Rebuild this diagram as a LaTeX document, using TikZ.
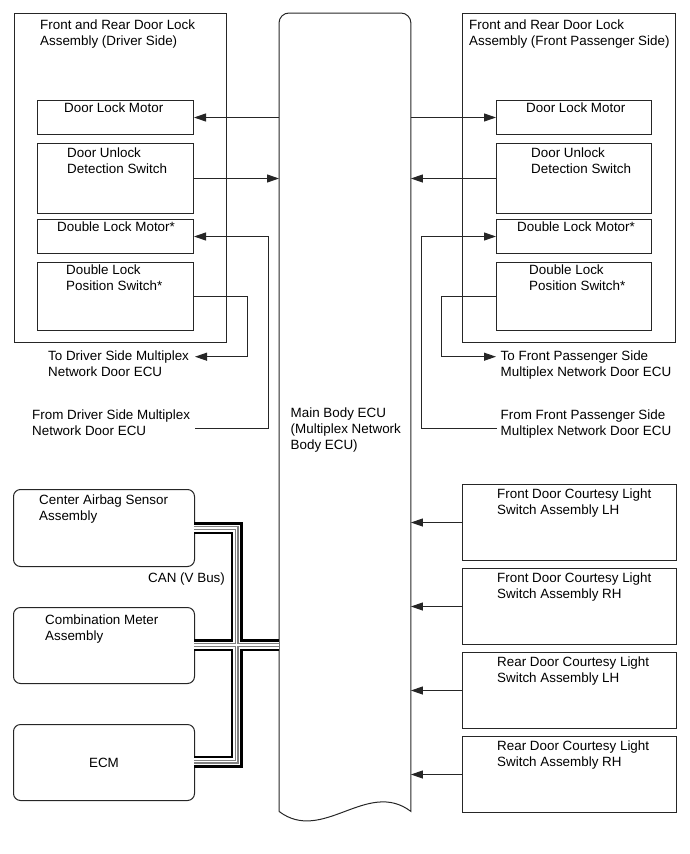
\documentclass[tikz,border=0pt]{standalone}
\usepackage{fontspec}
\setmainfont{Liberation Sans}
\usetikzlibrary{arrows.meta}
\begin{document}
\begin{tikzpicture}[x=1pt,y=-1pt,
  ln/.style={draw=black!85,line width=1pt},
  bx/.style={ln,rectangle,inner sep=0pt,anchor=north west},
  rbx/.style={bx,rounded corners=7pt},
  txt/.style={inner sep=0pt,anchor=north west,align=left,font=\fontsize{13.4}{16}\selectfont},
  arr/.style={ln,-{Triangle[length=12pt,width=8pt]}},
  wire/.style={ln,line join=miter}
]
\useasboundingbox (0,0) rectangle (689,854);

% main body ECU
\node[anchor=north west,minimum width=131.5pt,minimum height=798pt,inner sep=0pt] (ecu) at (279,13) {};
\draw[ln] (ecu.south west) [rounded corners=10pt] -- (ecu.north west) -- (ecu.north east) [sharp corners] -- (ecu.south east)
  .. controls ([xshift=-43.8pt,yshift=33pt]ecu.south east) and ([xshift=43.8pt,yshift=-33pt]ecu.south west) .. (ecu.south west);
\node[txt] (ecut) at (290.5,408) {Main Body ECU\\(Multiplex Network\\Body ECU)};

% left door lock assembly
\node[bx,minimum width=212pt,minimum height=329pt] (asmL) at (14,13) {};
\node[txt] (asmLt) at (40,20) {Front and Rear Door Lock\\Assembly (Driver Side)};
\node[bx,minimum width=156pt,minimum height=34pt] (dlmL) at (37,100) {};
\node[txt] (dlmLt) at (64,103) {Door Lock Motor};
\node[bx,minimum width=156pt,minimum height=70pt] (dusL) at (37,143) {};
\node[txt] (dusLt) at (67,148) {Door Unlock\\Detection Switch};
\node[bx,minimum width=156pt,minimum height=34pt] (dkmL) at (37,219) {};
\node[txt] (dkmLt) at (57,222) {Double Lock Motor*};
\node[bx,minimum width=156pt,minimum height=68pt] (dpsL) at (37,262) {};
\node[txt] (dpsLt) at (66,265) {Double Lock\\Position Switch*};
\node[txt] (toL) at (48,351) {To Driver Side Multiplex\\Network Door ECU};
\node[txt] (fromL) at (32,410) {From Driver Side Multiplex\\Network Door ECU};
\coordinate (toLend) at (195,356.7);
\coordinate (fromLend) at (195,428.3);
\coordinate (jL) at (268,0);
\coordinate (kL) at (247,0);

% right door lock assembly
\node[bx,minimum width=213pt,minimum height=329pt] (asmR) at (462,13) {};
\node[txt] (asmRt) at (469,20) {Front and Rear Door Lock\\Assembly (Front Passenger Side)};
\node[bx,minimum width=155pt,minimum height=34pt] (dlmR) at (496,100) {};
\node[txt] (dlmRt) at (526,103) {Door Lock Motor};
\node[bx,minimum width=155pt,minimum height=70pt] (dusR) at (496,143) {};
\node[txt] (dusRt) at (531,148) {Door Unlock\\Detection Switch};
\node[bx,minimum width=155pt,minimum height=34pt] (dkmR) at (496,219) {};
\node[txt] (dkmRt) at (517,222) {Double Lock Motor*};
\node[bx,minimum width=155pt,minimum height=68pt] (dpsR) at (496,262) {};
\node[txt] (dpsRt) at (529,265) {Double Lock\\Position Switch*};
\node[txt] (toR) at (500.5,351) {To Front Passenger Side\\Multiplex Network Door ECU};
\node[txt] (fromR) at (500.5,410) {From Front Passenger Side\\Multiplex Network Door ECU};
\coordinate (toRend) at (496,356.7);
\coordinate (fromRend) at (497,428.3);
\coordinate (jR) at (421.7,0);
\coordinate (kR) at (441.7,0);

% courtesy light switches
\node[bx,minimum width=214pt,minimum height=76pt] (cl1) at (462,484) {};
\node[txt] (cl1t) at (497,489) {Front Door Courtesy Light\\Switch Assembly LH};
\node[bx,minimum width=214pt,minimum height=76pt] (cl2) at (462,568) {};
\node[txt] (cl2t) at (497,573) {Front Door Courtesy Light\\Switch Assembly RH};
\node[bx,minimum width=214pt,minimum height=76pt] (cl3) at (462,652) {};
\node[txt] (cl3t) at (497,657) {Rear Door Courtesy Light\\Switch Assembly LH};
\node[bx,minimum width=214pt,minimum height=76pt] (cl4) at (462,736) {};
\node[txt] (cl4t) at (497,741) {Rear Door Courtesy Light\\Switch Assembly RH};

% CAN nodes
\node[rbx,minimum width=181pt,minimum height=77pt] (cab) at (13,489) {};
\node[txt] (cabt) at (39,495) {Center Airbag Sensor\\Assembly};
\node[rbx,minimum width=181pt,minimum height=76pt] (cmb) at (13,607) {};
\node[txt] (cmbt) at (45,615) {Combination Meter\\Assembly};
\node[rbx,minimum width=181pt,minimum height=76pt] (ecm) at (13,724) {};
\node[txt,anchor=center] (ecmt) at (ecm.center) {ECM};
\node[txt] (cant) at (148,573) {CAN (V Bus)};
\coordinate (cabR) at (194,528);
\coordinate (cmbR) at (194,645);
\coordinate (ecmR) at (194,761.5);
\coordinate (busx) at (236.5,0);

% left connectors
\draw[arr] (ecu.west |- dlmL.east) -- (dlmL.east);
\draw[arr] (dusL.east) -- (ecu.west |- dusL.east);
\draw[arr] (fromLend) -- (jL |- fromLend) -- (jL |- dkmL.east) -- (dkmL.east);
\draw[arr] (dpsL.east) -- (kL |- dpsL.east) -- (kL |- toLend) -- (toLend);

% right connectors
\draw[arr] (ecu.east |- dlmR.west) -- (dlmR.west);
\draw[arr] (dusR.west) -- (ecu.east |- dusR.west);
\draw[arr] (fromRend) -- (jR |- fromRend) -- (jR |- dkmR.west) -- (dkmR.west);
\draw[arr] (dpsR.west) -- (kR |- dpsR.west) -- (kR |- toRend) -- (toRend);

\foreach \c in {cl1,cl2,cl3,cl4}
  \draw[arr] (\c.west) -- (ecu.east |- \c.west);

% CAN bus bundle
\foreach \w/\col in {12/black,7/white,4/gray,1.8/white} {
  \draw[line width=\w pt,draw=\col,line join=miter] (cabR) -- (busx |- cabR) -- (busx |- ecmR) -- (ecmR);
  \draw[line width=\w pt,draw=\col] (cmbR) -- (ecu.west |- cmbR);
}
\end{tikzpicture}
\end{document}
